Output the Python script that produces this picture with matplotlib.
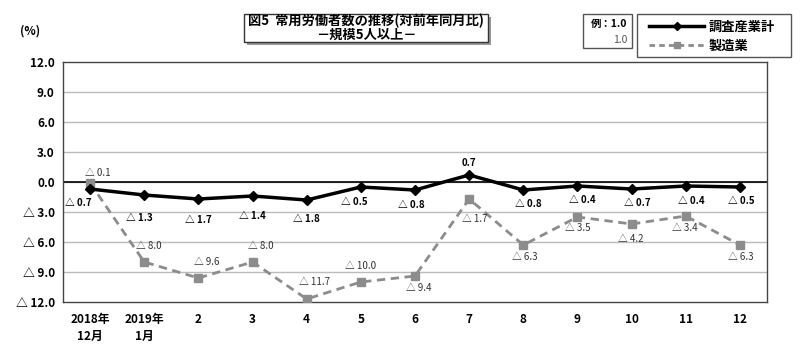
import matplotlib
matplotlib.use("Agg")
import matplotlib.pyplot as plt
from matplotlib.patches import Rectangle
from matplotlib.lines import Line2D

plt.rcParams["font.family"] = ["Noto Sans CJK JP", "DejaVu Sans"]

# data (前年同月比, %)
months = ["2018年\n12月", "2019年\n1月", "2", "3", "4", "5", "6", "7", "8", "9", "10", "11", "12"]
total = [-0.7, -1.3, -1.7, -1.4, -1.8, -0.5, -0.8, 0.7, -0.8, -0.4, -0.7, -0.4, -0.5]
manuf = [-0.1, -8.0, -9.6, -8.0, -11.7, -10.0, -9.4, -1.7, -6.3, -3.5, -4.2, -3.4, -6.3]
yticks = [12, 9, 6, 3, 0, -3, -6, -9, -12]

# label offsets in pixels (dx, dy)
total_off = [(-12, -14), (-5, -23), (0, -21), (0, -20), (0, -19), (-7, -15), (-4, -15),
             (0, 12), (5, -14), (5, -14), (6, -14), (6, -15), (1, -14)]
manuf_off = [(8, 10), (5, 16), (8, 16), (8, 16), (8, 17), (0, 16), (4, -12),
             (6, -20), (2, -12), (0, -11), (-1, -15), (-1, -12), (1, -12)]


def fmt(v):
    if v < 0:
        return f"△ {abs(v):.1f}"
    return f"{v:.1f}"


fig = plt.figure(figsize=(8, 3.53), dpi=100)
ax = fig.add_axes([63 / 800, 1 - 302 / 353, 704 / 800, 240 / 353])

x = list(range(len(months)))
ax.plot(x, manuf, color="#8c8c8c", lw=2, ls=(0, (3, 2)), marker="s", ms=6,
        zorder=3, label="製造業")
ax.plot(x, total, color="black", lw=2.5, marker="D", ms=5.5, zorder=4,
        label="調査産業計")

for i in x:
    dx, dy = total_off[i]
    ax.annotate(fmt(total[i]), (i, total[i]), xytext=(dx, dy), textcoords="offset pixels",
                ha="center", va="center", fontsize=7, fontweight="bold", zorder=5)
    dx, dy = manuf_off[i]
    ax.annotate(fmt(manuf[i]), (i, manuf[i]), xytext=(dx, dy), textcoords="offset pixels",
                ha="center", va="center", fontsize=7, color="#333333", zorder=5)

ax.set_xlim(-0.5, 12.5)
ax.set_ylim(-12, 12)
ax.set_yticks(yticks)
ax.set_yticklabels([fmt(v) for v in yticks], fontsize=8.5, fontweight="bold")
ax.set_xticks(x)
ax.set_xticklabels(months, fontsize=8.5, fontweight="bold", linespacing=1.4, va="top")
ax.tick_params(length=0, pad=6)
ax.tick_params(axis="x", pad=8)
for v in yticks[1:-1]:
    ax.axhline(v, color="#bbbbbb", lw=1, zorder=1)
ax.axhline(0, color="black", lw=1.2, zorder=2)
for s in ax.spines.values():
    s.set_color("#444444")
    s.set_linewidth(1)

fig.text(30 / 800, 1 - 31 / 353, "(%)", fontsize=8.5, fontweight="bold",
         ha="center", va="center")

# title box with shadow
bx, by, bw, bh = 244, 14, 244, 28
fig.patches.append(Rectangle(((bx + 3) / 800, 1 - (by + bh + 3) / 353), bw / 800, bh / 353,
                             transform=fig.transFigure, facecolor="#999999", edgecolor="none"))
fig.patches.append(Rectangle((bx / 800, 1 - (by + bh) / 353), bw / 800, bh / 353,
                             transform=fig.transFigure, facecolor="white", edgecolor="#333333", lw=1))
fig.text((bx + bw / 2) / 800, 1 - 21 / 353, "図5  常用労働者数の推移(対前年同月比)",
         fontsize=9.5, fontweight="bold", ha="center", va="center")
fig.text((bx + bw / 2) / 800, 1 - 35 / 353, "－規模5人以上－",
         fontsize=9.5, fontweight="bold", ha="center", va="center")

# example box
fig.patches.append(Rectangle((583 / 800, 1 - 48 / 353), 49 / 800, 34 / 353,
                             transform=fig.transFigure, facecolor="white", edgecolor="#555555", lw=1))
fig.text(627 / 800, 1 - 24 / 353, "例：1.0", fontsize=7.5, fontweight="bold", ha="right", va="center")
fig.text(627 / 800, 1 - 40 / 353, "1.0", fontsize=7.5, color="#555555", ha="right", va="center")

# legend (frame drawn separately to get the wide box)
fig.patches.append(Rectangle((637 / 800, 1 - 57 / 353), 154 / 800, 43 / 353,
                             transform=fig.transFigure, facecolor="white", edgecolor="#555555",
                             lw=1, zorder=-1))
handles = [Line2D([], [], color="black", lw=2.5, marker="D", ms=4),
           Line2D([], [], color="#8c8c8c", lw=2, ls=(0, (2, 1.5)), marker="s", ms=5)]
leg = fig.legend(handles, ["調査産業計", "製造業"], loc="upper left",
                 bbox_to_anchor=(643 / 800, 1 - 14 / 353),
                 frameon=False, prop={"weight": "bold", "size": 9.5}, handlelength=4.2,
                 borderpad=0.45, labelspacing=0.35, borderaxespad=0, handletextpad=0.3)
leg.set_zorder(5)

fig.savefig("out.png", dpi=100)
